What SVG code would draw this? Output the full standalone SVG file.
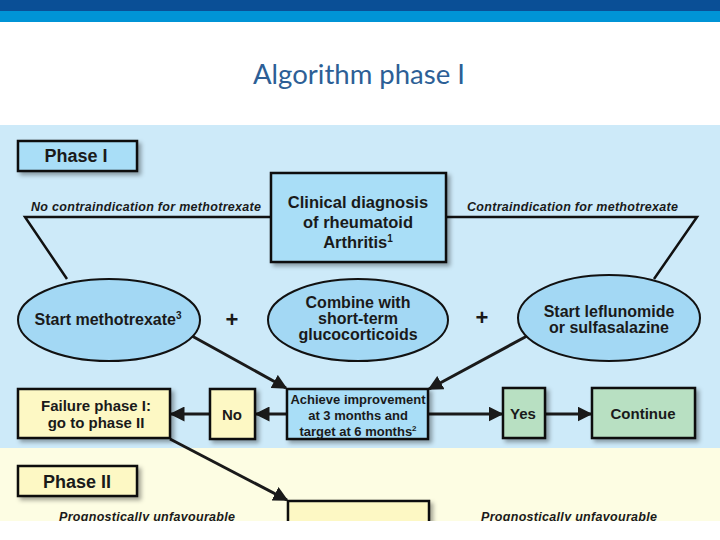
<svg xmlns="http://www.w3.org/2000/svg" width="720" height="540" viewBox="0 0 720 540">
<defs>
<filter id="sh" x="-10%" y="-10%" width="130%" height="140%">
<feDropShadow dx="3" dy="3" stdDeviation="2" flood-color="#000" flood-opacity="0.35"/>
</filter>
<marker id="ah" viewBox="0 0 10 10" refX="9" refY="5" markerWidth="5" markerHeight="5" orient="auto" markerUnits="strokeWidth">
<path d="M0,0 L10,5 L0,10 z" fill="#1a1a1a"/>
</marker>
<style>
.box{stroke:#111;stroke-width:2.5;filter:url(#sh)}
.blue{fill:#a9def7}
.ell{fill:#a3d8f4;stroke:#111;stroke-width:2}
.yel{fill:#fdf8c4}
.grn{fill:#b8e0c2}
.t{font-family:"Liberation Sans",Arial,sans-serif;font-weight:bold;fill:#1a1a1a;text-anchor:middle}
.lab{font-family:"Liberation Sans",Arial,sans-serif;font-weight:bold;font-style:italic;fill:#1a1a1a;font-size:12.5px}
.ln{stroke:#111;stroke-width:2.5;fill:none}
.ar{stroke:#1a1a1a;stroke-width:3;fill:none;marker-end:url(#ah)}
</style>
</defs>
<rect x="0" y="0" width="720" height="540" fill="#fff"/>
<rect x="0" y="0" width="720" height="11" fill="#0a4f96"/>
<rect x="0" y="11" width="720" height="11" fill="#0094d6"/>
<text x="253" y="84" font-family="Lato,'Open Sans',sans-serif" font-size="26" fill="#2d5f96" textLength="212" lengthAdjust="spacingAndGlyphs">Algorithm phase I</text>
<rect x="0" y="125" width="720" height="323" fill="#cdeaf9"/>
<rect x="0" y="448" width="720" height="73" fill="#fdfde3"/>

<g id="connectors">
<polyline class="ln" points="271,217 25,217 67,279"/>
<polyline class="ln" points="446,217 697,217 654,279"/>
<line class="ar" x1="192" y1="336" x2="286" y2="388"/>
<line class="ar" x1="527" y1="336" x2="429" y2="389"/>
<line class="ar" x1="287" y1="414" x2="256" y2="414"/>
<line class="ar" x1="210" y1="414" x2="171" y2="414"/>
<line class="ar" x1="428" y1="414" x2="502" y2="414"/>
<line class="ar" x1="545" y1="414" x2="591" y2="414"/>
<line class="ar" x1="170" y1="439" x2="287" y2="500"/>
</g>
<text class="lab" x="31" y="211" textLength="230">No contraindication for methotrexate</text>
<text class="lab" x="467" y="211" textLength="211">Contraindication for methotrexate</text>

<g id="phase1">
<rect class="box blue" x="18" y="141" width="119" height="30"/>
<text class="t" x="76" y="162" font-size="18">Phase I</text>
</g>
<g id="diagnosis">
<rect class="box blue" x="271" y="173" width="175" height="89"/>
<text class="t" x="358" y="208" font-size="16.5">Clinical diagnosis</text>
<text class="t" x="358" y="228" font-size="16.5">of rheumatoid</text>
<text class="t" x="358" y="248" font-size="16.5">Arthritis<tspan font-size="10" dy="-6">1</tspan></text>
</g>
<g id="methotrexate">
<ellipse class="ell" cx="109" cy="320" rx="91" ry="41"/>
<text class="t" x="108" y="325" font-size="16">Start methotrexate<tspan font-size="10" dy="-6">3</tspan></text>
</g>
<text class="t" x="232" y="327" font-size="22" font-weight="normal">+</text>
<g id="glucocorticoids">
<ellipse class="ell" cx="358" cy="320" rx="90" ry="41"/>
<text class="t" x="358" y="308" font-size="16">Combine with</text>
<text class="t" x="358" y="324" font-size="16">short-term</text>
<text class="t" x="358" y="340" font-size="16">glucocorticoids</text>
</g>
<text class="t" x="482" y="325" font-size="22" font-weight="normal">+</text>
<g id="leflunomide">
<ellipse class="ell" cx="609" cy="318" rx="91" ry="43"/>
<text class="t" x="609" y="317" font-size="16">Start leflunomide</text>
<text class="t" x="609" y="333" font-size="16">or sulfasalazine</text>
</g>
<g id="achieve">
<rect class="box blue" x="287" y="389" width="141" height="50"/>
<text class="t" x="358" y="404" font-size="13">Achieve improvement</text>
<text class="t" x="358" y="420" font-size="13">at 3 months and</text>
<text class="t" x="358" y="436" font-size="13">target at 6 months<tspan font-size="8" dy="-5">2</tspan></text>
</g>
<g id="no">
<rect class="box yel" x="210" y="389" width="45" height="50"/>
<text class="t" x="232" y="420" font-size="15">No</text>
</g>
<g id="failure">
<rect class="box yel" x="18" y="389" width="152" height="49"/>
<text class="t" x="96" y="411" font-size="15">Failure phase I:</text>
<text class="t" x="96" y="428" font-size="15">go to phase II</text>
</g>
<g id="yes">
<rect class="box grn" x="503" y="388" width="42" height="50"/>
<text class="t" x="523" y="419" font-size="15">Yes</text>
</g>
<g id="continue">
<rect class="box grn" x="592" y="388" width="103" height="50"/>
<text class="t" x="643" y="419" font-size="15">Continue</text>
</g>
<g id="phase2">
<rect class="box yel" x="18" y="466" width="119" height="30"/>
<text class="t" x="77" y="488" font-size="18">Phase II</text>
</g>
<g id="phase2box">
<rect class="box" fill="#fdf8c4" x="288" y="501" width="141" height="40"/>
</g>
<text class="lab" x="59" y="521" textLength="176">Prognostically unfavourable</text>
<text class="lab" x="481" y="521" textLength="176">Prognostically unfavourable</text>
<rect x="0" y="521" width="720" height="19" fill="#fff"/>
</svg>
